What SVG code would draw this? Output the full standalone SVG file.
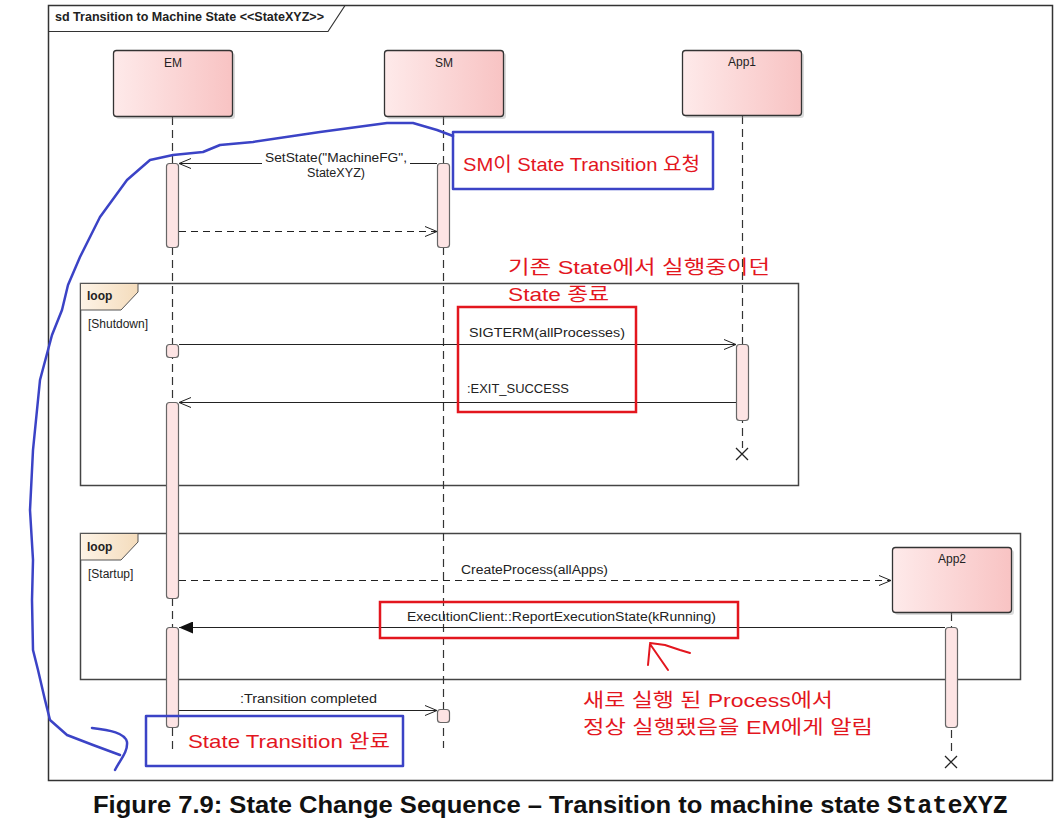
<svg xmlns="http://www.w3.org/2000/svg" width="1059" height="837" viewBox="0 0 1059 837">
<defs>
<linearGradient id="lifeGrad" x1="0" y1="0" x2="1" y2="0">
<stop offset="0" stop-color="#feeaea"/>
<stop offset="1" stop-color="#f8c3c3"/>
</linearGradient>
<linearGradient id="tabGrad" x1="0" y1="0" x2="1" y2="0">
<stop offset="0" stop-color="#fdf3e6"/>
<stop offset="1" stop-color="#f4dcbc"/>
</linearGradient>
<marker id="open" markerWidth="14" markerHeight="12" refX="12" refY="6" orient="auto" markerUnits="userSpaceOnUse">
<path d="M0,1 L12,6 L0,11" fill="none" stroke="#222" stroke-width="1"/>
</marker>
<marker id="filled" markerWidth="16" markerHeight="12" refX="14" refY="6" orient="auto" markerUnits="userSpaceOnUse">
<path d="M0,0 L14,6 L0,12 Z" fill="#111"/>
</marker>
</defs>
<style>
.frame{fill:none;stroke:#333;stroke-width:1.5}
.loopf{fill:none;stroke:#444;stroke-width:1.5}
.tab{fill:url(#tabGrad);stroke:#555;stroke-width:1}
.head{fill:url(#lifeGrad);stroke:#333;stroke-width:1.3}
.shadow{fill:#999;opacity:0.35}
.life{stroke:#333;stroke-width:1.2;stroke-dasharray:8 5;fill:none}
.act{fill:#fde4e4;stroke:#666;stroke-width:1.2}
.msg{stroke:#222;stroke-width:1;fill:none}
.dash{stroke-dasharray:7 5}
.xmark{stroke:#222;stroke-width:1.3}
.lbl{font-family:"Liberation Sans",Arial,sans-serif;font-size:12px;fill:#222}
.bold{font-weight:bold}
.blue{fill:none;stroke:#3b43c6;stroke-width:2.5;stroke-linejoin:round;stroke-linecap:round}
.red{fill:none;stroke:#e3161e;stroke-width:2.5}
.rtxt{font-family:"Liberation Sans","Noto Sans CJK KR",sans-serif;font-size:19px;fill:#e3161e}
.cap{font-family:"Liberation Sans",Arial,sans-serif;font-size:24px;font-weight:bold;fill:#111}
.mono{font-family:"Liberation Mono","Courier New",monospace;font-size:25px;font-weight:bold;fill:#111}
</style>
<rect width="1059" height="837" fill="#ffffff"/>

<g id="frame">
<rect class="frame" x="48.5" y="5.5" width="1004" height="775"/>
<path d="M48.5,31.5 H328 L345,5.5" fill="none" stroke="#333" stroke-width="1.2"/>
<text class="lbl bold" x="55" y="21" textLength="269" lengthAdjust="spacingAndGlyphs">sd Transition to Machine State &lt;&lt;StateXYZ&gt;&gt;</text>
</g>

<g id="loop-shutdown">
<rect class="loopf" x="80.5" y="283.5" width="718" height="202"/>
<path class="tab" d="M80.5,283.5 H138 V292 L121,310 H80.5 Z"/>
<text class="lbl bold" x="87" y="300">loop</text>
<text class="lbl" x="88" y="328">[Shutdown]</text>
</g>

<g id="loop-startup">
<rect class="loopf" x="80.5" y="533.5" width="940" height="146"/>
<path class="tab" d="M80.5,533.5 H138 V542 L121,560 H80.5 Z"/>
<text class="lbl bold" x="87" y="551">loop</text>
<text class="lbl" x="88" y="578">[Startup]</text>
</g>

<g id="lifelines">
<line class="life" x1="172.5" y1="117" x2="172.5" y2="750"/>
<line class="life" x1="443.5" y1="117" x2="443.5" y2="748"/>
<line class="life" x1="742.5" y1="116" x2="742.5" y2="448"/>
<line class="life" x1="951.5" y1="613" x2="951.5" y2="756"/>
<path class="xmark" d="M736,448 L748,460 M748,448 L736,460"/>
<path class="xmark" d="M945,756 L957,768 M957,756 L945,768"/>
</g>

<g id="EM">
<rect class="shadow" x="116" y="53" width="119" height="66" rx="3"/>
<rect class="head" x="113.5" y="50.5" width="119" height="66" rx="3"/>
<text class="lbl" x="173" y="67" text-anchor="middle">EM</text>
</g>
<g id="SM">
<rect class="shadow" x="387" y="53" width="119" height="66" rx="3"/>
<rect class="head" x="384.5" y="50.5" width="119" height="66" rx="3"/>
<text class="lbl" x="444" y="67" text-anchor="middle">SM</text>
</g>
<g id="App1">
<rect class="shadow" x="685" y="53" width="119" height="65" rx="3"/>
<rect class="head" x="682.5" y="50.5" width="119" height="65" rx="3"/>
<text class="lbl" x="742" y="66" text-anchor="middle">App1</text>
</g>
<g id="App2">
<rect class="shadow" x="895" y="550" width="119" height="65" rx="3"/>
<rect class="head" x="892.5" y="547.5" width="119" height="65" rx="3"/>
<text class="lbl" x="952" y="563" text-anchor="middle">App2</text>
</g>

<g id="activations">
<rect class="act" x="166.5" y="163.5" width="12" height="84" rx="3"/>
<rect class="act" x="437.5" y="163.5" width="12" height="84" rx="3"/>
<rect class="act" x="166.5" y="344.5" width="12" height="13" rx="3"/>
<rect class="act" x="736.5" y="344.5" width="12" height="76" rx="3"/>
<rect class="act" x="166.5" y="402.5" width="12" height="196" rx="3"/>
<rect class="act" x="166.5" y="627.5" width="12" height="100" rx="3"/>
<rect class="act" x="945.5" y="627.5" width="12" height="100" rx="3"/>
<rect class="act" x="437.5" y="709.5" width="12" height="13" rx="3"/>
</g>

<g id="connectors">
<line class="msg" x1="437" y1="163.5" x2="410" y2="163.5"/>
<line class="msg" x1="262" y1="163.5" x2="179" y2="163.5" marker-end="url(#open)"/>
<text class="lbl" x="265" y="162" textLength="142" lengthAdjust="spacingAndGlyphs">SetState("MachineFG",</text>
<text class="lbl" x="307" y="177" textLength="58" lengthAdjust="spacingAndGlyphs">StateXYZ)</text>

<line class="msg dash" x1="179" y1="231.5" x2="437" y2="231.5" marker-end="url(#open)"/>

<line class="msg" x1="179" y1="344.5" x2="736" y2="344.5" marker-end="url(#open)"/>
<text class="lbl" x="469" y="337" textLength="156" lengthAdjust="spacingAndGlyphs">SIGTERM(allProcesses)</text>

<line class="msg" x1="736" y1="402.5" x2="179" y2="402.5" marker-end="url(#open)"/>
<text class="lbl" x="467" y="393" textLength="102" lengthAdjust="spacingAndGlyphs">:EXIT_SUCCESS</text>

<line class="msg dash" x1="179" y1="580.5" x2="891" y2="580.5" marker-end="url(#open)"/>
<text class="lbl" x="461" y="574" textLength="147" lengthAdjust="spacingAndGlyphs">CreateProcess(allApps)</text>

<line class="msg" x1="945" y1="627.5" x2="179" y2="627.5" marker-end="url(#filled)"/>
<text class="lbl" x="407" y="621" textLength="309" lengthAdjust="spacingAndGlyphs">ExecutionClient::ReportExecutionState(kRunning)</text>

<line class="msg" x1="179" y1="710.5" x2="437" y2="710.5" marker-end="url(#open)"/>
<text class="lbl" x="240" y="703" textLength="137" lengthAdjust="spacingAndGlyphs">:Transition completed</text>
</g>

<g id="annotations">
<path class="blue" d="M453,136 L437,130 L413,123 L387,123 L320,132 L253,142 L220,145 L203,152 L173,155 L150,160 L127,180 L100,217 L80,257 L68,285 L62,310 L52,335 L40,380 L33,450 L30,510 L33,560 L32,600 L33,650 L38,670 L45,700 L50,720 L67,735 L93,745 L120,755"/>
<path class="blue" d="M92,728 C110,730 125,733 127,742 C128,752 120,760 115,770"/>
<rect class="blue" x="453" y="132" width="260" height="57" stroke-linecap="butt" stroke-linejoin="miter"/>
<text class="rtxt" x="463" y="171" textLength="237" lengthAdjust="spacingAndGlyphs">SM이 State Transition 요청</text>

<text class="rtxt" x="508" y="274" textLength="262" lengthAdjust="spacingAndGlyphs">기존 State에서 실행중이던</text>
<text class="rtxt" x="508" y="301" textLength="101" lengthAdjust="spacingAndGlyphs">State 종료</text>
<rect class="red" x="458" y="307" width="178" height="105"/>

<rect class="red" x="380" y="602" width="358" height="36"/>
<path d="M648,665 L650,644 L668,670 M650,643 L665,645 L680,650 L690,653" fill="none" stroke="#e3161e" stroke-width="2" stroke-linecap="round" stroke-linejoin="round"/>
<text class="rtxt" x="583" y="707" textLength="250" lengthAdjust="spacingAndGlyphs">새로 실행 된 Process에서</text>
<text class="rtxt" x="583" y="734" textLength="290" lengthAdjust="spacingAndGlyphs">정상 실행됐음을 EM에게 알림</text>

<rect class="blue" x="146" y="716" width="257" height="50" stroke-linecap="butt" stroke-linejoin="miter"/>
<text class="rtxt" x="188" y="748" textLength="202" lengthAdjust="spacingAndGlyphs">State Transition 완료</text>
</g>

<g id="caption">
<text class="cap" x="93" y="813" textLength="787" lengthAdjust="spacingAndGlyphs">Figure 7.9: State Change Sequence – Transition to machine state</text>
<text class="mono" x="887" y="813" textLength="121" lengthAdjust="spacingAndGlyphs">StateXYZ</text>
</g>
</svg>
